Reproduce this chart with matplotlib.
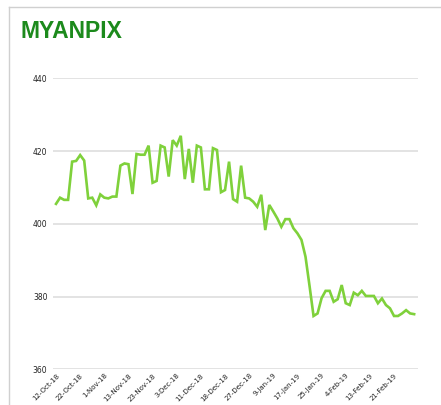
import matplotlib.pyplot as plt
from matplotlib.lines import Line2D

# MYANPIX closing values
values = [405.5, 407.2, 406.6, 406.6, 417.1, 417.3, 418.9, 417.4, 407.0, 407.2,
          405.1, 408.1, 407.2, 407.0, 407.5, 407.5, 416.0, 416.6, 416.4, 408.2,
          419.2, 419.0, 419.0, 421.5, 411.3, 411.8, 421.5, 421.0, 413.0, 423.0,
          421.5, 424.2, 412.3, 420.6, 411.3, 421.5, 421.0, 409.5, 409.5, 420.8,
          420.3, 408.7, 409.3, 417.1, 406.8, 406.1, 416.0, 407.2, 407.0, 406.1,
          404.7, 408.0, 398.3, 405.2, 403.4, 401.5, 399.2, 401.3, 401.3, 398.8,
          397.4, 395.6, 391.0, 383.0, 374.7, 375.4, 379.6, 381.6, 381.6, 378.6,
          379.3, 383.2, 378.2, 377.7, 381.1, 380.4, 381.6, 380.2, 380.2, 380.2,
          378.2, 379.5, 377.7, 376.8, 374.7, 374.7, 375.4, 376.3, 375.4, 375.2]

tick_labels = ['12-Oct-18', '22-Oct-18', '1-Nov-18', '13-Nov-18', '23-Nov-18',
               '3-Dec-18', '11-Dec-18', '18-Dec-18', '27-Dec-18', '9-Jan-19',
               '17-Jan-19', '25-Jan-19', '4-Feb-19', '13-Feb-19', '21-Feb-19']
y_ticks = [360, 380, 400, 420, 440]

fig = plt.figure(figsize=(4.41, 4.05), dpi=100)
ax = fig.add_axes([0.1202, 0.0877, 0.828, 0.719])

x = list(range(len(values)))
ax.plot(x, values, color='#7FD13B', linewidth=1.9, solid_joinstyle='miter')

ax.set_xlim(-0.75, 90)
ax.set_ylim(360, 440)
ax.set_yticks(y_ticks)
ax.set_yticklabels([str(v) for v in y_ticks], fontsize=5.5, color='#222222')
ax.set_xticks(range(0, len(values), 6))
ax.set_xticklabels(tick_labels, rotation=45, ha='right', rotation_mode='anchor',
                   fontsize=5, color='#222222')
ax.tick_params(axis='x', length=0, pad=2)
ax.tick_params(axis='y', length=0, pad=4)
ax.grid(axis='y', color='#E0E0E0', linewidth=1.3)
ax.set_axisbelow(True)
for s in ax.spines.values():
    s.set_visible(False)

# chart frame (top and left edges only visible)
fig.add_artist(Line2D([9/441, 1], [1 - 7/405, 1 - 7/405], color='#D0D0D0', linewidth=1))
fig.add_artist(Line2D([9/441, 9/441], [0, 1 - 7/405], color='#D0D0D0', linewidth=1))

fig.text(20/441, 1 - 32/405, 'MYANPIX', fontsize=16.5, fontweight='bold',
         color='#1C8A1C', family='Liberation Sans', va='center', ha='left')

fig.savefig('out.png', dpi=100)
